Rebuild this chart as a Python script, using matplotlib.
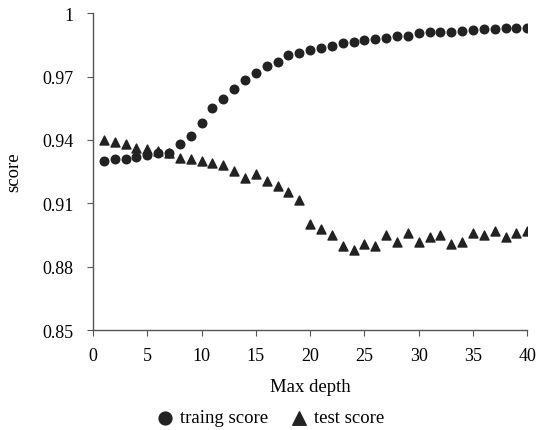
import matplotlib
matplotlib.use('Agg')
import matplotlib.pyplot as plt
import numpy as np

plt.rcParams['font.family'] = ['Liberation Serif', 'DejaVu Serif']

depth = np.arange(1, 41)

train_score = [0.9298, 0.9310, 0.9310, 0.9320, 0.9328, 0.9336, 0.9340, 0.9380, 0.9421, 0.9480,
               0.9550, 0.9592, 0.9639, 0.9682, 0.9719, 0.9749, 0.9768, 0.9800, 0.9814, 0.9825,
               0.9834, 0.9844, 0.9857, 0.9866, 0.9875, 0.9880, 0.9885, 0.9890, 0.9890, 0.9907,
               0.9910, 0.9913, 0.9913, 0.9918, 0.9921, 0.9926, 0.9926, 0.9929, 0.9930, 0.9930]

test_score = [0.9400, 0.9388, 0.9379, 0.9361, 0.9358, 0.9349, 0.9340, 0.9316, 0.9308, 0.9300,
              0.9290, 0.9281, 0.9251, 0.9218, 0.9238, 0.9207, 0.9180, 0.9152, 0.9117, 0.9000,
              0.8980, 0.8950, 0.8898, 0.8879, 0.8906, 0.8898, 0.8951, 0.8915, 0.8958, 0.8915,
              0.8942, 0.8950, 0.8907, 0.8917, 0.8958, 0.8950, 0.8970, 0.8941, 0.8958, 0.8968]

yticks = [0.85, 0.88, 0.91, 0.94, 0.97, 1.0]
ytick_labels = ['0.85', '0.88', '0.91', '0.94', '0.97', '1']

fig = plt.figure(figsize=(5.38, 4.31), dpi=100)
ax = fig.add_axes([0.173, 0.232, 0.807, 0.735])

ax.scatter(depth, train_score, marker='o', s=38, color='#222222', label='traing score', zorder=3)
ax.scatter(depth, test_score, marker='^', s=42, color='#222222', label='test score', zorder=2)

ax.set_xlim(0, 40)
ax.set_ylim(0.85, 1.0)
ax.set_xticks(np.arange(0, 41, 5))
ax.set_yticks(yticks)
ax.set_yticklabels(ytick_labels)

for s in ['top', 'right']:
    ax.spines[s].set_visible(False)
for s in ['left', 'bottom']:
    ax.spines[s].set_color('#555555')
    ax.spines[s].set_linewidth(1.0)
ax.tick_params(direction='out', length=4, color='#555555', labelsize=13)
ax.tick_params(axis='y', pad=10)
ax.tick_params(axis='x', pad=8)

ax.set_xlabel('Max depth', fontsize=13.5)
ax.set_ylabel('score', fontsize=13.5)
ax.xaxis.set_label_coords(0.5, -0.15)
ax.yaxis.set_label_coords(-0.162, 0.5)

fig.legend(*ax.get_legend_handles_labels(), loc='center', bbox_to_anchor=(0.5, 0.028),
           ncol=2, frameon=False, fontsize=13.5, handletextpad=0.2, columnspacing=1.0,
           markerscale=1.5, handlelength=1.2)

fig.savefig('out.png', dpi=100)
